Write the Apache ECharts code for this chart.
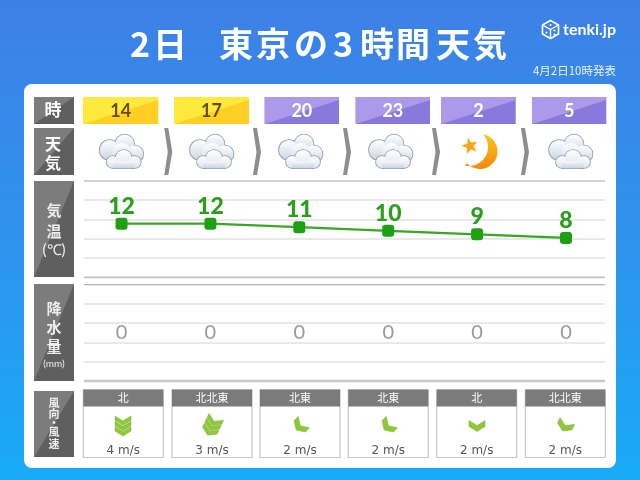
<!DOCTYPE html>
<html>
<head>
<meta charset="utf-8">
<style>html,body{margin:0;padding:0;background:#fff}#main{width:640px;height:480px}</style>
<script src="https://cdn.jsdelivr.net/npm/echarts@6/dist/echarts.min.js"></script>
</head>
<body>
<div id="main"></div>
<script>
var hours = ['14', '17', '20', '23', '2', '5'];
var dayTime = [true, true, false, false, false, false];
var weather = ['cloud', 'cloud', 'cloud', 'cloud', 'moon', 'cloud'];
var temps = [12, 12, 11, 10, 9, 8];
var rain = [0, 0, 0, 0, 0, 0];
var windDirs = ['北', '北北東', '北東', '北東', '北', '北北東'];
var windSpeeds = [4, 3, 2, 2, 2, 2];

var cjk = '"Noto Sans CJK JP"';
var els = [];

function text(str, x, y, font, fill, align) {
  els.push({ type: 'text', x: x, y: y, silent: true, z: 3, style: { text: str, font: font, fill: fill, align: align || 'center', verticalAlign: 'middle' } });
}
function poly(points, fill, z) {
  els.push({ type: 'polygon', silent: true, z: z || 1, shape: { points: points }, style: { fill: fill } });
}
function line(x1, y1, x2, y2, color, w) {
  els.push({ type: 'line', silent: true, z: 2, shape: { x1: x1, y1: y1, x2: x2, y2: y2 }, style: { stroke: color, lineWidth: w } });
}
// two tone box, the split runs from top right to bottom left
function box(x, y, w, h, light, dark, cut) {
  poly([[x, y], [x + w, y], [x + w, y + h], [x, y + h]], dark);
  poly([[x, y], [x + w, y], [x + w, y + (cut || 0)], [x, y + h]], light, 2);
}
function grad(c1, c2) {
  return new echarts.graphic.LinearGradient(0, 0, 0, 1, [{ offset: 0, color: c1 }, { offset: 1, color: c2 }]);
}

// panel
els.push({ type: 'rect', silent: true, z: -1, shape: { x: 24, y: 84, width: 592, height: 384, r: 8 }, style: { fill: '#fff' } });

// title
var titleChars = [['2', 140], ['日', 170], ['東', 236], ['京', 273], ['の', 311], ['3', 343], ['時', 377], ['間', 413], ['天', 453], ['気', 490]];
titleChars.forEach(function (c) {
  text(c[0], c[1], 44, 'bold 34px ' + cjk, '#fff');
});
text('4月2日10時発表', 616, 71, '11.5px ' + cjk, '#eaf3ff', 'right');

// logo
var lx = 550.5, ly = 29.5;
els.push({ type: 'polygon', silent: true, z: 3, shape: { points: [[lx, ly - 9], [lx + 8, ly - 4.5], [lx + 8, ly + 4.5], [lx, ly + 9], [lx - 8, ly + 4.5], [lx - 8, ly - 4.5]] }, style: { fill: 'none', stroke: '#fff', lineWidth: 1.6 } });
els.push({ type: 'polyline', silent: true, z: 3, shape: { points: [[lx - 8, ly - 4.5], [lx, ly], [lx + 8, ly - 4.5]] }, style: { fill: 'none', stroke: '#fff', lineWidth: 1.4 } });
els.push({ type: 'line', silent: true, z: 3, shape: { x1: lx, y1: ly, x2: lx, y2: ly + 9 }, style: { stroke: '#fff', lineWidth: 1.4 } });
[[0, -4.5], [-4, 3], [4, 1], [4, 5]].forEach(function (d) {
  els.push({ type: 'circle', silent: true, z: 3, shape: { cx: lx + d[0], cy: ly + d[1], r: 1.1 }, style: { fill: '#fff' } });
});
text('tenki.jp', 563, 30, 'bold 16px Lato', '#fff', 'left');

// row heads
box(34, 97, 40, 27, '#7c7c7c', '#5f5f5f');
box(34, 128, 40, 47, '#7c7c7c', '#5f5f5f');
box(34, 181, 40, 96, '#7c7c7c', '#5f5f5f');
box(34, 284, 40, 97, '#7c7c7c', '#5f5f5f');
box(34, 391, 40, 66, '#7c7c7c', '#5f5f5f');
var headFont = 'bold 15px ' + cjk;
text('時', 53, 110, 'bold 17px ' + cjk, '#fff');
text('天', 53, 144, 'bold 16px ' + cjk, '#fff');
text('気', 53, 163, 'bold 16px ' + cjk, '#fff');
text('気', 54, 210, headFont, '#eee');
text('温', 54, 231, headFont, '#eee');
text('(℃)', 54, 250, '15px Lato', '#eee');
text('降', 54, 308, headFont, '#eee');
text('水', 54, 327, headFont, '#eee');
text('量', 54, 346, headFont, '#eee');
text('(mm)', 54, 364, '10px Lato', '#eee');
var smallHead = 'bold 11px ' + cjk;
text('風', 54, 402.5, smallHead, '#eee');
text('向', 54, 414, smallHead, '#eee');
text('・', 54, 423, smallHead, '#eee');
text('風', 54, 431.5, smallHead, '#eee');
text('速', 54, 443.5, smallHead, '#eee');

// hour cells
var cellX = [83.3, 174, 264.7, 355.7, 441.3, 532.3];
var cellW = [75, 75, 74.3, 74.3, 74.4, 74];
hours.forEach(function (h, i) {
  var x = cellX[i], w = cellW[i];
  if (dayTime[i]) box(x, 97, w, 27, '#ffe93c', '#ffcf24', 3);
  else box(x, 97, w, 27, '#ab9aea', '#8a79dc', 3);
  text(h, x + w / 2, 111, 'bold 18px Lato', dayTime[i] ? '#6b4a05' : '#fff');
});

// arrows between cells
var chevX = [164.3, 253, 343, 432, 521];
chevX.forEach(function (x) {
  poly([[x, 128], [x + 4, 128], [x + 8, 152], [x + 4, 175], [x, 175], [x + 3.5, 152]], '#8e8e8e');
});

// icons
function cloud(cx, cy) {
  var back = [[-12, -2, 10], [3, -8, 9.5], [13, 2, 8.5], [0, 1, 10]];
  var front = [[-9, 10, 6], [2, 6, 8], [13, 10, 6]];
  back.forEach(function (c) {
    els.push({ type: 'circle', silent: true, z: 3, shape: { cx: cx + c[0], cy: cy + c[1], r: c[2] + 0.8 }, style: { fill: '#8c9cb2' } });
  });
  back.forEach(function (c) {
    els.push({ type: 'circle', silent: true, z: 4, shape: { cx: cx + c[0], cy: cy + c[1], r: c[2] }, style: { fill: grad('#ffffff', '#ccd5e2') } });
  });
  front.forEach(function (c) {
    els.push({ type: 'circle', silent: true, z: 5, shape: { cx: cx + c[0], cy: cy + c[1], r: c[2] + 0.8 }, style: { fill: '#8c9cb2' } });
  });
  els.push({ type: 'rect', silent: true, z: 5, shape: { x: cx - 9, y: cy + 9, width: 22, height: 7.8 }, style: { fill: '#8c9cb2' } });
  front.forEach(function (c) {
    els.push({ type: 'circle', silent: true, z: 6, shape: { cx: cx + c[0], cy: cy + c[1], r: c[2] }, style: { fill: grad('#ffffff', '#dfe4ec') } });
  });
  els.push({ type: 'rect', silent: true, z: 6, shape: { x: cx - 9, y: cy + 9, width: 22, height: 7 }, style: { fill: grad('#f6f8fb', '#ccd4e0') } });
}
function moon(cx, cy) {
  var pts = [], k, a;
  for (k = 0; k <= 24; k++) {
    a = (-77 + k * (215 / 24)) * Math.PI / 180;
    pts.push([cx + 2 + 17.5 * Math.cos(a), cy - 0.5 + 17.5 * Math.sin(a)]);
  }
  for (k = 0; k <= 24; k++) {
    a = (102.5 - k * (143.5 / 24)) * Math.PI / 180;
    pts.push([cx - 9 + 19 * Math.cos(a), cy - 5 + 19 * Math.sin(a)]);
  }
  els.push({ type: 'polygon', silent: true, z: 4, shape: { points: pts }, style: { fill: grad('#ffc21e', '#f28a0c') } });
  var star = [];
  for (k = 0; k < 10; k++) {
    var r = k % 2 ? 3.6 : 8.5;
    a = -Math.PI / 2 + k * Math.PI / 5 - 0.25;
    star.push([cx - 8 + r * Math.cos(a), cy - 6 + r * Math.sin(a)]);
  }
  poly(star, '#f9a81b', 5);
}
var iconX = [121.7, 212, 301, 391, 478, 571];
weather.forEach(function (kind, i) {
  if (kind === 'moon') moon(iconX[i], 152);
  else cloud(iconX[i], 152);
});

// wind
var dirAngle = { '北': 0, '北北東': 25, '北東': 45 };
var windX = [83.3, 172, 260, 348.3, 436.7, 525.3];
var chevronX = [123, 212, 300, 388, 477, 565];
windDirs.forEach(function (d, i) {
  var x = windX[i];
  els.push({ type: 'rect', silent: true, z: 1, shape: { x: x, y: 390, width: 80, height: 67.5 }, style: { fill: '#fff', stroke: '#c6c6c6', lineWidth: 1.2 } });
  els.push({ type: 'rect', silent: true, z: 2, shape: { x: x, y: 389.5, width: 80, height: 17 }, style: { fill: '#7b7b7b' } });
  text(d, x + 40, 398, '11px ' + cjk, '#fff');
  var count = windSpeeds[i] >= 3 ? 3 : 1;
  var t = count > 1 ? 4.4 : 6;
  var kids = [];
  for (var n = 0; n < count; n++) {
    var dy = (n - (count - 1) / 2) * 5.4;
    kids.push({
      type: 'polygon', z: 3,
      shape: { points: [[-8, dy - t / 2 - 2.5], [0, dy - t / 2 + 2.5], [8, dy - t / 2 - 2.5], [8, dy + t / 2 - 2.5], [0, dy + t / 2 + 2.5], [-8, dy + t / 2 - 2.5]] },
      style: { fill: '#8fc93a', stroke: '#7db32e', lineWidth: 0.5 }
    });
  }
  els.push({ type: 'group', silent: true, x: chevronX[i], y: 426, rotation: -dirAngle[d] * Math.PI / 180, children: kids });
  text(windSpeeds[i] + ' m/s', x + 40, 451, '12px "DejaVu Sans"', '#555');
});

// heavier rules at the plot edges
line(84, 181, 605, 181, '#cbcbcb', 1.5);
line(84, 277.5, 605, 277.5, '#c4c4c4', 1.5);
line(84, 284.5, 605, 284.5, '#b4b4b4', 1);
line(84, 381, 605, 381, '#c8c8c8', 2.5);

function ruleAxis(gridIndex) {
  return {
    gridIndex: gridIndex, type: 'value', min: 0, max: 5, interval: 1,
    axisLine: { show: false }, axisTick: { show: false }, axisLabel: { show: false },
    splitLine: { show: true, lineStyle: { color: '#e2e2e2', width: 1.5 } }
  };
}
function dataAxis(gridIndex, min, max) {
  return {
    gridIndex: gridIndex, type: 'value', min: min, max: max,
    axisLine: { show: false }, axisTick: { show: false }, axisLabel: { show: false },
    splitLine: { show: false }
  };
}
function slotAxis(gridIndex) {
  return {
    gridIndex: gridIndex, type: 'value', min: -0.422, max: 5.439,
    axisLine: { show: false }, axisTick: { show: false }, axisLabel: { show: false },
    splitLine: { show: false }
  };
}
function pairs(values) {
  return values.map(function (v, i) { return [i, v]; });
}

var chart = echarts.init(document.getElementById('main'));
chart.setOption({
  animation: false,
  backgroundColor: new echarts.graphic.LinearGradient(0, 0, 0, 1, [
    { offset: 0, color: '#3d80e6' },
    { offset: 0.5, color: '#2f93ee' },
    { offset: 1, color: '#18aaf8' }
  ]),
  grid: [
    { left: 84, width: 521, top: 181, height: 96 },
    { left: 84, width: 521, top: 284.5, height: 96.5 }
  ],
  xAxis: [slotAxis(0), slotAxis(1)],
  yAxis: [ruleAxis(0), dataAxis(0, -3, 24), ruleAxis(1), dataAxis(1, -2.5, 2.5)],
  series: [
    {
      type: 'line', xAxisIndex: 0, yAxisIndex: 1, data: pairs(temps),
      symbol: 'roundRect', symbolSize: 12,
      itemStyle: { color: '#1fa012' },
      lineStyle: { color: '#3aa528', width: 2.2 },
      label: { show: true, position: 'top', distance: 0, color: '#2b9f1c', fontFamily: 'Lato', fontWeight: 900, fontSize: 23, formatter: function (p) { return p.value[1]; } },
      z: 5
    },
    {
      type: 'scatter', xAxisIndex: 1, yAxisIndex: 3, data: pairs(rain),
      symbolSize: 1, itemStyle: { color: 'rgba(0,0,0,0)' },
      label: { show: true, position: 'inside', color: '#808080', fontFamily: 'Lato', fontSize: 20, formatter: function (p) { return p.value[1]; } },
      z: 5
    }
  ],
  graphic: { elements: els }
});
</script>
</body>
</html>
